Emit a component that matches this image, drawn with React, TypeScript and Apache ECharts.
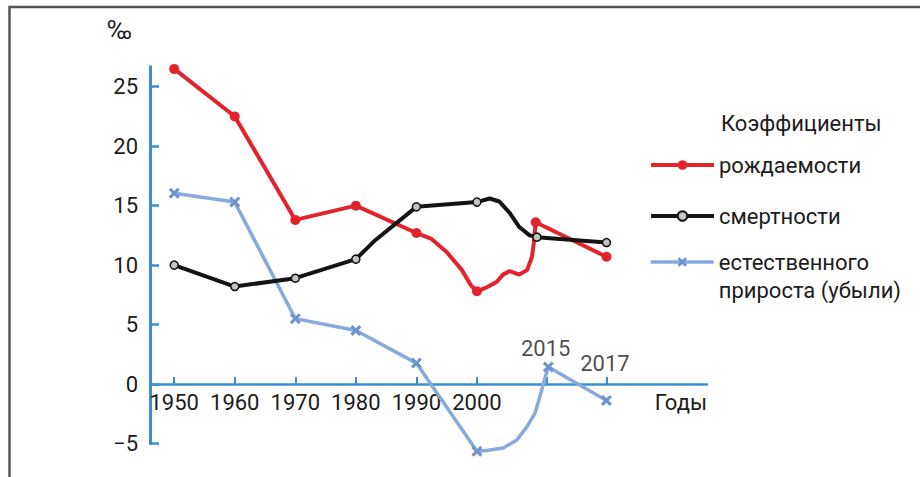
import React, { useEffect, useRef } from 'react';
import * as echarts from 'echarts';

// x-axis decade ticks and labels
const xTickYears = [1950, 1960, 1970, 1980, 1990, 2000];
const xTickLabels = ['1950', '1960', '1970', '1980', '1990', '2000'];
// later years are drawn on a compressed part of the axis (schematic in the original)
const extraYearLabels = ['2015', '2017'];
const extraYearPositions = [2011.6, 2021.4];
const extraLabelHeights = [2.95, 1.7];
// y-axis ticks
const yTickValues = [-5, 0, 5, 10, 15, 20, 25];

// Birth rate (рождаемости), ‰
const birthX = [1950, 1960, 1970, 1980, 1990, 1992.5, 1995, 1997.5, 1999, 2000, 2001.7, 2003.3, 2004.3, 2005.4, 2007, 2008.3, 2009.1, 2009.4, 2009.7, 2021.4];
const birthY = [26.5, 22.5, 13.8, 15.0, 12.7, 12.2, 11.1, 9.6, 8.3, 7.8, 8.15, 8.6, 9.2, 9.5, 9.2, 9.6, 10.7, 11.9, 13.6, 10.7];
const birthMarked = [0, 1, 2, 3, 4, 9, 18, 19];

// Death rate (смертности), ‰
const deathX = [1950, 1960, 1970, 1980, 1983, 1990, 2000, 2002.1, 2003.7, 2005.4, 2007, 2008.7, 2009.9, 2021.4];
const deathY = [10.0, 8.2, 8.9, 10.5, 12.0, 14.9, 15.3, 15.6, 15.35, 14.4, 13.2, 12.5, 12.35, 11.9];
const deathMarked = [0, 1, 2, 3, 5, 6, 12, 13];

// Natural increase / decrease (естественного прироста (убыли)), ‰
const natX = [1950, 1960, 1970, 1980, 1990, 2000, 2001.65, 2004.35, 2006.6, 2008.3, 2009.6, 2010.4, 2011.25, 2011.8, 2021.4];
const natY = [16.05, 15.3, 5.5, 4.5, 1.76, -5.66, -5.58, -5.38, -4.7, -3.56, -2.44, -1.04, 0.5, 1.43, -1.38];
const natMarked = [0, 1, 2, 3, 4, 5, 13, 14];

const seriesNames = ['рождаемости', 'смертности', 'естественного прироста (убыли)'];
const legendTitle = 'Коэффициенты';

const FONT = 'Roboto, sans-serif';
const TEXT = '#1c1c1c';
const AXIS = '#3b8fd0';
const RED = '#e3232c';
const BLACK = '#141414';
const BLUE_LINE = '#87a9db';
const BLUE_MARK = '#6e94cd';
const CROSS = 'path://M2,0 L5,3 L8,0 L10,2 L7,5 L10,8 L8,10 L5,7 L2,10 L0,8 L3,5 L0,2 Z';

const Y_MIN = -5;
const Y_MAX = 26.7;
const GRID_TOP = 66.5;
const GRID_BOTTOM = 33.5;
const H = 477;

function build(xs: number[], ys: number[], marked: number[]) {
  return xs.map((x, i) =>
    marked.includes(i) ? { value: [x, ys[i]] } : { value: [x, ys[i]], symbol: 'none' }
  );
}

export default function App() {
  const ref = useRef<HTMLDivElement>(null);
  useEffect(() => {
    if (!ref.current) return;
    const chart = echarts.init(ref.current, undefined, { renderer: 'svg' });
    // distance (px) from the grid bottom (value Y_MIN) up to value 0, where the x-axis sits
    const plotH = H - GRID_TOP - GRID_BOTTOM;
    const zeroOffset = ((0 - Y_MIN) / (Y_MAX - Y_MIN)) * plotH;
    const legendBase = {
      orient: 'vertical',
      left: 649,
      padding: 0,
      itemWidth: 63,
      itemHeight: 12,
      textStyle: { fontSize: 22, color: TEXT, fontFamily: FONT, lineHeight: 26 },
    };
    chart.setOption({
      animation: false,
      backgroundColor: '#ffffff',
      textStyle: { fontFamily: FONT },
      title: {
        text: legendTitle,
        left: 721,
        top: 110,
        padding: 0,
        textStyle: { fontSize: 22, fontWeight: 'normal', color: TEXT, fontFamily: FONT, lineHeight: 26 },
      },
      legend: [
        { ...legendBase, top: 152, data: [seriesNames[0]], lineStyle: { width: 4 } },
        { ...legendBase, top: 203, data: [seriesNames[1]], lineStyle: { width: 4 } },
        {
          ...legendBase,
          top: 220,
          data: [seriesNames[2]],
          lineStyle: { width: 3.5 },
          formatter: () => ' \nестественного\nприроста (убыли)',
          textStyle: { fontSize: 22, color: TEXT, fontFamily: FONT, lineHeight: 28 },
        },
      ],
      graphic: [
        {
          type: 'rect',
          shape: { x: 9.5, y: 7, width: 1200, height: 1200 },
          style: { fill: 'none', stroke: '#555555', lineWidth: 2.5 },
          silent: true,
        },
      ],
      grid: { left: 150, right: 213, top: GRID_TOP, bottom: GRID_BOTTOM, containLabel: false },
      xAxis: {
        type: 'value',
        min: 1946,
        max: 2038,
        position: 'bottom',
        offset: -zeroOffset,
        name: 'Годы',
        nameLocation: 'end',
        nameGap: 0,
        nameTextStyle: { fontSize: 22, color: TEXT, align: 'right', verticalAlign: 'top', padding: [7, 0, 0, 0], fontFamily: FONT },
        axisLine: { onZero: false, lineStyle: { color: AXIS, width: 2.5 } },
        axisTick: {
          inside: true,
          length: 7,
          lineStyle: { color: AXIS, width: 2 },
          customValues: [...xTickYears, ...extraYearPositions],
        },
        axisLabel: {
          customValues: xTickYears,
          formatter: (v: number) => xTickLabels[xTickYears.indexOf(v)] ?? '',
          fontSize: 22,
          color: TEXT,
          margin: 7,
          fontFamily: FONT,
        },
        splitLine: { show: false },
      },
      yAxis: {
        type: 'value',
        min: Y_MIN,
        max: Y_MAX,
        interval: 5,
        name: '‰',
        nameLocation: 'end',
        nameGap: 24,
        nameTextStyle: { fontSize: 26, color: TEXT, align: 'right', verticalAlign: 'bottom', padding: [0, 18, 0, 0], fontFamily: FONT },
        axisLine: { show: true, lineStyle: { color: AXIS, width: 3 } },
        axisTick: { show: true, inside: true, length: 9, lineStyle: { color: AXIS, width: 2.5 }, customValues: yTickValues },
        axisLabel: {
          customValues: yTickValues,
          formatter: (v: number) => (v < 0 ? '\u2212' + Math.abs(v) : String(v)),
          fontSize: 22,
          color: TEXT,
          margin: 12,
          fontFamily: FONT,
        },
        splitLine: { show: false },
      },
      series: [
        {
          name: seriesNames[2],
          type: 'line',
          data: build(natX, natY, natMarked),
          symbol: CROSS,
          symbolSize: 11,
          showAllSymbol: true,
          clip: false,
          itemStyle: { color: BLUE_MARK },
          lineStyle: { color: BLUE_LINE, width: 3.5 },
          z: 2,
        },
        {
          name: seriesNames[0],
          type: 'line',
          data: build(birthX, birthY, birthMarked),
          symbol: 'circle',
          symbolSize: 10,
          showAllSymbol: true,
          clip: false,
          itemStyle: { color: RED },
          lineStyle: { color: RED, width: 4 },
          z: 3,
        },
        {
          name: seriesNames[1],
          type: 'line',
          data: build(deathX, deathY, deathMarked),
          symbol: 'circle',
          symbolSize: 8,
          showAllSymbol: true,
          clip: false,
          itemStyle: { color: '#c4c4c4', borderColor: BLACK, borderWidth: 1.5 },
          lineStyle: { color: BLACK, width: 4 },
          z: 4,
        },
        {
          name: 'annotations',
          type: 'scatter',
          silent: true,
          symbolSize: 0,
          data: extraYearPositions.map((x, i) => ({
            value: [x - 0.25, extraLabelHeights[i]],
            label: { formatter: extraYearLabels[i] },
          })),
          label: { show: true, position: 'inside', fontSize: 22, color: TEXT, fontFamily: FONT },
          z: 5,
        },
      ],
    });
    return () => chart.dispose();
  }, []);
  return <div ref={ref} style={{ position: 'fixed', left: 0, top: 0, width: 920, height: 477 }} />;
}
